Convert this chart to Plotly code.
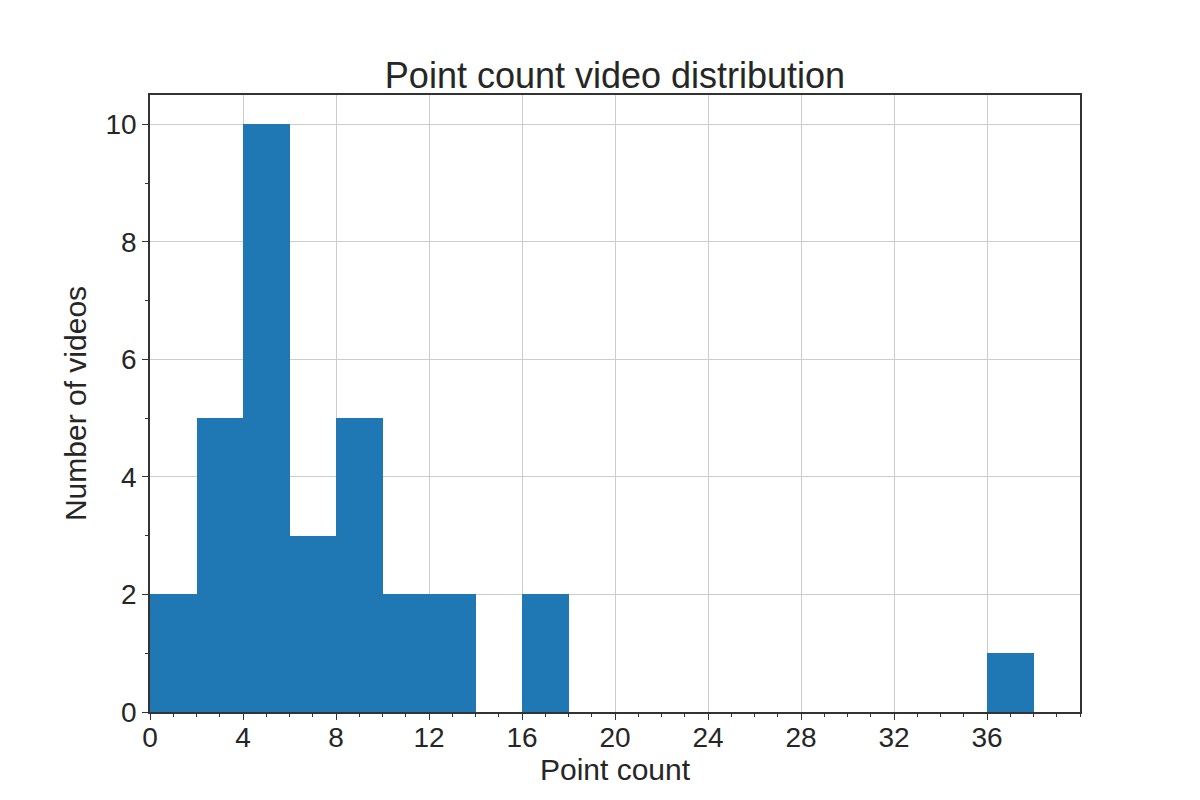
import plotly.graph_objects as go

bin_starts = [0, 2, 4, 6, 8, 10, 12, 14, 16, 18, 20, 22, 24, 26, 28, 30, 32, 34, 36]
counts = [2, 5, 10, 3, 5, 2, 2, 0, 2, 0, 0, 0, 0, 0, 0, 0, 0, 0, 1]
bin_width = 2
x_ticks = [0, 4, 8, 12, 16, 20, 24, 28, 32, 36]
y_ticks = [0, 2, 4, 6, 8, 10]

centers = [s + bin_width / 2 for s in bin_starts]

FONT = "Liberation Sans, Arial, sans-serif"

fig = go.Figure(go.Bar(
    x=centers, y=counts, width=[bin_width] * len(counts),
    marker=dict(color="#1f77b4", line=dict(width=0)),
))

axis_common = dict(
    showline=True, linecolor="#333333", linewidth=1.5, mirror=True,
    ticks="outside", ticklen=6, tickwidth=1.2, tickcolor="#333333",
    showgrid=True, gridcolor="#cccccc", gridwidth=1, zeroline=False,
    tickfont=dict(family=FONT, size=28, color="#262626"),
    title_font=dict(family=FONT, size=30, color="#262626"),
)

fig.update_layout(
    width=1200, height=800,
    paper_bgcolor="white", plot_bgcolor="white",
    margin=dict(l=150, r=120, t=95, b=88),
    showlegend=False,
    bargap=0,
    title=dict(
        text="Point count video distribution",
        x=0.5, xref="paper", xanchor="center",
        y=1, yref="paper", yanchor="bottom", pad=dict(b=7),
        font=dict(family=FONT, size=36, color="#262626"),
    ),
    xaxis=dict(
        range=[0, 40], tickvals=x_ticks, title_text="Point count", title_standoff=0,
        ticklabelstandoff=-6,
        minor=dict(dtick=1, tick0=0, ticks="outside", ticklen=3, tickcolor="#333333", showgrid=False),
        **axis_common,
    ),
    yaxis=dict(
        range=[0, 10.5], tickvals=y_ticks, title_text="Number of videos", title_standoff=10,
        minor=dict(dtick=1, tick0=0, ticks="outside", ticklen=3, tickcolor="#333333", showgrid=False),
        **axis_common,
    ),
)

fig.write_html("out.html")
